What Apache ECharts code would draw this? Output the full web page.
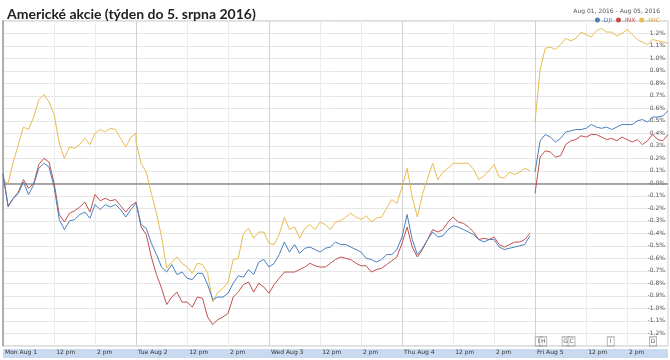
<!DOCTYPE html>
<html><head><meta charset="utf-8">
<script src="https://cdn.jsdelivr.net/npm/echarts@6/dist/echarts.min.js"></script>
<style>html,body{margin:0;padding:0;background:#fff}#c{width:670px;height:360px}</style>
</head><body><div id="c"></div>
<script>
// Trading-minute positions of x-axis ticks (09:30 open = 0, 390 min per day)
const tickLabels = ['Mon Aug 1','12 pm','2 pm','Tue Aug 2','12 pm','2 pm','Wed Aug 3','12 pm','2 pm','Thu Aug 4','12 pm','2 pm','Fri Aug 5','12 pm','2 pm'];
const tickMinutes = [0,150,270,390,540,660,780,930,1050,1170,1320,1440,1560,1710,1830];
const dayStarts = [390,780,1170,1560];
const SLOTS = 27, STEP = 15, DAY_MIN = 390;

// % change, 15-minute samples, 27 per day (Mon..Fri)
const ixic = [
 0.02,0.00,0.17,0.31,0.45,0.43,0.53,0.67,0.71,0.65,0.55,0.32,0.20,0.29,0.28,0.31,0.36,0.31,0.40,0.43,0.41,0.44,0.43,0.36,0.29,0.37,0.40,
 0.33,0.16,0.09,-0.08,-0.24,-0.43,-0.68,-0.63,-0.59,-0.64,-0.67,-0.72,-0.64,-0.65,-0.72,-0.95,-0.87,-0.84,-0.79,-0.61,-0.60,-0.40,-0.36,-0.44,-0.39,-0.39,-0.48,
 -0.48,-0.49,-0.41,-0.27,-0.37,-0.35,-0.44,-0.36,-0.33,-0.37,-0.31,-0.33,-0.37,-0.31,-0.30,-0.27,-0.24,-0.27,-0.29,-0.26,-0.31,-0.28,-0.27,-0.20,-0.13,-0.16,-0.03,
 -0.03,0.12,-0.11,-0.27,-0.09,0.04,0.16,0.03,0.09,0.12,0.16,0.16,0.16,0.16,0.11,0.03,0.06,0.10,0.15,0.05,0.04,0.09,0.07,0.09,0.12,0.10,null,
 0.49,0.91,1.08,1.09,1.07,1.11,1.16,1.14,1.16,1.21,1.19,1.17,1.22,1.24,1.21,1.21,1.18,1.20,1.23,1.19,1.15,1.13,1.11,1.15,1.14,1.13,1.12
];
const dji = [
 0.08,-0.19,-0.12,-0.08,0.01,-0.09,-0.01,0.12,0.16,0.13,-0.03,-0.29,-0.37,-0.30,-0.29,-0.25,-0.23,-0.28,-0.17,-0.21,-0.17,-0.19,-0.17,-0.21,-0.27,-0.21,-0.16,
 -0.16,-0.33,-0.36,-0.48,-0.57,-0.67,-0.71,-0.65,-0.73,-0.71,-0.76,-0.77,-0.72,-0.72,-0.81,-0.93,-0.91,-0.91,-0.88,-0.80,-0.74,-0.75,-0.69,-0.73,-0.63,-0.61,-0.67,
 -0.67,-0.64,-0.57,-0.47,-0.55,-0.49,-0.56,-0.52,-0.51,-0.53,-0.55,-0.52,-0.51,-0.47,-0.49,-0.49,-0.51,-0.53,-0.55,-0.60,-0.61,-0.63,-0.61,-0.57,-0.57,-0.53,-0.43,
 -0.43,-0.25,-0.45,-0.57,-0.52,-0.45,-0.39,-0.43,-0.42,-0.37,-0.34,-0.35,-0.37,-0.39,-0.41,-0.45,-0.47,-0.45,-0.45,-0.51,-0.53,-0.52,-0.51,-0.50,-0.49,-0.42,null,
 0.09,0.34,0.39,0.37,0.33,0.36,0.41,0.42,0.43,0.43,0.44,0.47,0.45,0.44,0.45,0.43,0.45,0.47,0.47,0.47,0.50,0.51,0.49,0.53,0.53,0.54,0.58
];
const inx = [
 0.07,-0.18,-0.12,-0.07,0.03,-0.04,0.00,0.15,0.20,0.17,0.00,-0.25,-0.31,-0.24,-0.22,-0.19,-0.15,-0.23,-0.09,-0.14,-0.12,-0.14,-0.13,-0.18,-0.23,-0.18,-0.15,
 -0.15,-0.35,-0.41,-0.59,-0.73,-0.84,-0.97,-0.91,-0.87,-0.95,-0.95,-0.99,-0.91,-0.92,-1.07,-1.13,-1.09,-1.07,-1.04,-0.91,-0.87,-0.81,-0.79,-0.87,-0.80,-0.83,-0.88,
 -0.88,-0.81,-0.76,-0.71,-0.71,-0.71,-0.69,-0.67,-0.64,-0.66,-0.67,-0.67,-0.64,-0.61,-0.59,-0.60,-0.61,-0.64,-0.66,-0.66,-0.71,-0.69,-0.68,-0.65,-0.62,-0.59,-0.48,
 -0.48,-0.35,-0.51,-0.59,-0.53,-0.45,-0.37,-0.39,-0.37,-0.31,-0.27,-0.31,-0.32,-0.35,-0.39,-0.45,-0.44,-0.45,-0.43,-0.49,-0.51,-0.49,-0.47,-0.47,-0.45,-0.40,null,
 -0.08,0.21,0.26,0.25,0.21,0.22,0.31,0.34,0.35,0.38,0.37,0.39,0.39,0.37,0.35,0.36,0.34,0.37,0.35,0.33,0.35,0.31,0.34,0.39,0.35,0.34,0.39
];

// News flags on Friday
const flagLabels = ['I','H','G','C','I','D'];
const flagMinutes = [1571,1584,1650,1667,1782,1906];
const FLAG_LEVEL = -1.265;

const C_DJI = '#4a7ebf', C_INX = '#c0504d', C_IXIC = '#e8bb50';

function toPoints(vals){
  return vals.map((v,k)=>[Math.floor(k/SLOTS)*DAY_MIN + (k%SLOTS)*STEP, v===null?'-':v]);
}

const chart = echarts.init(document.getElementById('c'));
const gridMarks = [];
tickMinutes.forEach(t=>{
  if (t===0) return;
  gridMarks.push({xAxis:t, lineStyle:{color: dayStarts.includes(t)?'#d2d2d2':'#ececec', width:1, type:'solid'}});
});
gridMarks.push({yAxis:0, lineStyle:{color:'#8c8c8c', width:1.5, type:'solid'}});

const lineBase = {type:'line', showSymbol:false, symbol:'none', animation:false, connectNulls:false, lineStyle:{width:1}};

chart.setOption({
  animation:false,
  title:[
    {text:'Americké akcie (týden do 5. srpna 2016)', left:2, top:2,
     textStyle:{fontFamily:'Lato', fontWeight:'bold', fontSize:14, color:'#222'}},
    {text:'Aug 01, 2016 - Aug 05, 2016', right:5, top:3,
     textStyle:{fontFamily:'DejaVu Sans', fontWeight:'normal', fontSize:6, color:'#555'}}
  ],
  legend:{right:5, top:12, icon:'circle', itemWidth:5, itemHeight:5, itemGap:4,
    textStyle:{fontFamily:'DejaVu Sans', fontSize:6, padding:[0,0,0,-3]},
    data:[{name:'.DJI', textStyle:{color:C_DJI}},{name:'.INX', textStyle:{color:C_INX}},{name:'.IXIC', textStyle:{color:'#e8a030'}}]},
  graphic:[{type:'rect', left:3, top:349, shape:{width:665, height:9}, style:{fill:'#c9daf0'}, z:-1, silent:true}],
  grid:{left:3, right:2, top:20.8, bottom:14.2, show:true, borderColor:'#d0d0d0', borderWidth:1},
  xAxis:{type:'value', min:0, max:1950,
    axisLine:{show:false}, splitLine:{show:false},
    axisTick:{show:true, customValues:tickMinutes, length:3, lineStyle:{color:'#999'}},
    axisLabel:{customValues:tickMinutes, formatter:v=>{const i=tickMinutes.indexOf(v);return i<0?'':tickLabels[i];},
      align:'left', margin:4, padding:[0,0,0,2], fontFamily:'DejaVu Sans', fontSize:6, color:'#333'}},
  yAxis:[
    {type:'value', position:'right', min:-1.3, max:1.3, interval:0.1,
     axisLine:{show:true, lineStyle:{color:'#c8c8c8'}}, axisTick:{show:false},
     splitLine:{show:true, lineStyle:{color:'#e6e6e6', width:1}},
     axisLabel:{inside:true, margin:3, fontFamily:'DejaVu Sans', fontSize:6, color:'#555',
       formatter:v=>{const r=Math.round(v*10)/10; if(Math.abs(r)>1.25) return ''; if(r===0) return '-0.0%'; return r.toFixed(1)+'%';}}},
    {type:'value', position:'left', min:-1.3, max:1.3, interval:0.1,
     axisLine:{show:true, lineStyle:{color:'#a0a0a0', width:1.5}}, axisTick:{show:false},
     axisLabel:{show:false}, splitLine:{show:false}}
  ],
  series:[
    {type:'line', name:'grid', data:[], z:1, silent:true,
     markLine:{silent:true, symbol:'none', z:1, label:{show:false}, animation:false, data:gridMarks}},
    Object.assign({}, lineBase, {name:'.IXIC', data:toPoints(ixic), itemStyle:{color:C_IXIC}, lineStyle:{width:1, color:C_IXIC}}),
    Object.assign({}, lineBase, {name:'.INX', data:toPoints(inx), itemStyle:{color:C_INX}, lineStyle:{width:1, color:C_INX}}),
    Object.assign({}, lineBase, {name:'.DJI', data:toPoints(dji), itemStyle:{color:C_DJI}, lineStyle:{width:1, color:C_DJI}}),
    {type:'scatter', name:'flags', data:flagMinutes.map(t=>[t,FLAG_LEVEL]), symbol:'rect', symbolSize:[7,9],
     itemStyle:{color:'#fff', borderColor:'#999', borderWidth:1}, silent:true,
     label:{show:true, position:'inside', formatter:p=>flagLabels[p.dataIndex], fontFamily:'DejaVu Sans', fontSize:6, color:'#333'}}
  ]
});
</script></body></html>
